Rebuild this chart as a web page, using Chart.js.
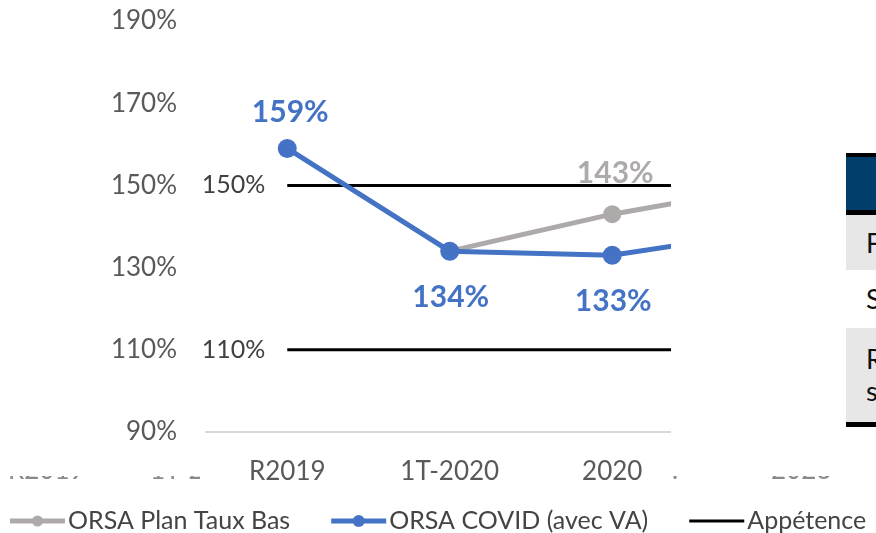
<!DOCTYPE html>
<html>
<head>
<meta charset="utf-8">
<script src="https://cdn.jsdelivr.net/npm/chart.js@4.4.1/dist/chart.umd.min.js"></script>
<style>
  html, body { margin: 0; padding: 0; background: #fff; overflow: hidden; }
  #wrap { position: relative; width: 876px; height: 533px; overflow: hidden; font-family: Lato, "Open Sans", sans-serif; }
  #chart { position: absolute; left: 0; top: 0; }
  #cover { position: absolute; left: 671px; top: 0; width: 205px; height: 490px; background: #fff; }
  .ghost { position: absolute; top: 476px; height: 5px; overflow: hidden; }
  .ghost span { position: absolute; left: 0; top: -22px; font-size: 26px; line-height: 31px; color: #8a8a8a; white-space: nowrap; }
  #table { position: absolute; left: 846px; top: 153px; width: 60px; font-size: 27px; color: #111; }
  #table .top { height: 4px; background: #000; }
  #table .head { height: 53px; background: #003E6C; }
  #table .sep { height: 5px; background: #000; }
  #table .row { padding-left: 20px; box-sizing: border-box; display: flex; flex-direction: column; justify-content: center; line-height: 32px; }
  #table .g { background: #E7E7E7; }
  #table .bot { height: 5px; background: #000; }
</style>
</head>
<body>
<div id="wrap">
  <canvas id="chart" width="876" height="533"></canvas>
  <div id="cover"></div>
  <div class="ghost" style="left:8px;width:80px;"><span>R2019</span></div>
  <div class="ghost" style="left:150px;width:50px;"><span>1T-2020</span></div>
  <div class="ghost" style="left:672px;width:6px;"><span>.</span></div>
  <div class="ghost" style="left:771px;width:62px;"><span>2023</span></div>
  <div id="table">
    <div class="top"></div>
    <div class="head"></div>
    <div class="sep"></div>
    <div class="row g" style="height:55px;">F</div>
    <div class="row" style="height:58px;">S</div>
    <div class="row g" style="height:94px;">R<br>s</div>
    <div class="bot"></div>
  </div>
</div>
<script>
// ---- data ----
const categories = ["R2019", "1T-2020", "2020", "2021"];
const planTauxBas = [null, 134, 143, 150];
const covidVA = [159, 134, 133, 139];
const appetenceHaute = [150, 150, 150, 150];
const appetenceBasse = [110, 110, 110, 110];
const yMin = 90, yMax = 190, yStep = 20;
const seriesNames = ["ORSA Plan Taux Bas", "ORSA COVID (avec VA)", "Appétence"];

const FONT = "Lato, 'Open Sans', sans-serif";
const GRAY = "#AEAAAA", BLUE = "#4472C4", BLACK = "#000000";

// data labels: placement per point (null = none)
const labelPlugin = {
  id: "pointLabels",
  afterDatasetsDraw(chart) {
    const ctx = chart.ctx;
    chart.data.datasets.forEach((ds, i) => {
      if (!ds.labelPos) return;
      const meta = chart.getDatasetMeta(i);
      meta.data.forEach((pt, j) => {
        const pos = ds.labelPos[j];
        const v = ds.data[j];
        if (!pos || v == null) return;
        ctx.save();
        ctx.font = (ds.labelBold ? "bold " : "") + ds.labelSize + "px " + FONT;
        ctx.fillStyle = ds.labelColor;
        ctx.textBaseline = "middle";
        const txt = v + "%";
        const off = ds.labelOffset || 36;
        if (pos === "above") { ctx.textAlign = "center"; ctx.fillText(txt, pt.x + 3, pt.y - off); }
        else if (pos === "below") { ctx.textAlign = "center"; ctx.fillText(txt, pt.x + 1, pt.y + 46); }
        else if (pos === "left") { ctx.textAlign = "right"; ctx.fillText(txt, pt.x - 22, pt.y); }
        ctx.restore();
      });
    });
  }
};

// legend with line + marker
const legendPlugin = {
  id: "lineLegend",
  afterDraw(chart) {
    const ctx = chart.ctx;
    let x = 10;
    const y = 521;
    ctx.save();
    ctx.font = "25px " + FONT;
    ctx.textBaseline = "middle";
    chart.data.datasets.forEach(ds => {
      if (ds.inLegend === false) return;
      ctx.strokeStyle = ds.borderColor;
      ctx.lineWidth = ds.legendLineWidth || ds.borderWidth;
      ctx.beginPath(); ctx.moveTo(x, y); ctx.lineTo(x + 55, y); ctx.stroke();
      if (ds.pointRadius > 0) {
        ctx.fillStyle = ds.pointBackgroundColor;
        ctx.beginPath(); ctx.arc(x + 27.5, y, ds.pointRadius - 1, 0, Math.PI * 2); ctx.fill();
      }
      ctx.fillStyle = "#444444";
      ctx.textAlign = "left";
      ctx.fillText(ds.label, x + 58, y);
      x += 58 + ctx.measureText(ds.label).width + 41;
    });
    ctx.restore();
  }
};

new Chart(document.getElementById("chart"), {
  type: "line",
  data: {
    labels: categories,
    datasets: [
      {
        label: seriesNames[0], data: planTauxBas, order: 1,
        borderColor: GRAY, backgroundColor: GRAY, pointBackgroundColor: GRAY, pointBorderColor: GRAY,
        borderWidth: 5, pointRadius: 6.5, pointHoverRadius: 6.5, tension: 0,
        labelPos: [null, null, "above", null], labelColor: GRAY, labelBold: true, labelSize: 30, labelOffset: 41
      },
      {
        label: seriesNames[1], data: covidVA, order: 0,
        borderColor: BLUE, backgroundColor: BLUE, pointBackgroundColor: BLUE, pointBorderColor: BLUE,
        borderWidth: 5, pointRadius: 7, pointHoverRadius: 7, tension: 0,
        labelPos: ["above", "below", "below", null], labelColor: BLUE, labelBold: true, labelSize: 30, labelOffset: 36
      },
      {
        label: seriesNames[2], data: appetenceHaute, order: 2,
        borderColor: BLACK, backgroundColor: BLACK, borderWidth: 3, pointRadius: 0, pointHoverRadius: 0,
        legendLineWidth: 3,
        labelPos: ["left", null, null, null], labelColor: "#404040", labelBold: false, labelSize: 25
      },
      {
        label: seriesNames[2], data: appetenceBasse, inLegend: false, order: 2,
        borderColor: BLACK, backgroundColor: BLACK, borderWidth: 3, pointRadius: 0, pointHoverRadius: 0,
        labelPos: ["left", null, null, null], labelColor: "#404040", labelBold: false, labelSize: 25
      }
    ]
  },
  options: {
    responsive: false,
    animation: false,
    events: [],
    layout: { padding: { left: 0, right: 20, top: 21, bottom: 31 } },
    plugins: { legend: { display: false }, tooltip: { enabled: false } },
    scales: {
      x: {
        offset: true,
        grid: { display: false, drawTicks: false },
        border: { display: true, color: "#D9D9D9", width: 2 },
        ticks: { color: "#595959", font: { family: FONT, size: 26 }, padding: 24, maxRotation: 0, autoSkip: false },
        afterFit(s) { s.height = 70; s.paddingLeft = 0; s.paddingRight = 0; }
      },
      y: {
        min: yMin, max: yMax,
        grid: { display: false, drawTicks: false },
        border: { display: false },
        ticks: { stepSize: yStep, color: "#595959", font: { family: FONT, size: 26 }, padding: 29,
                 callback: v => v + "%" },
        afterFit(s) { s.width = 206; s.paddingTop = 0; s.paddingBottom = 0; }
      }
    }
  },
  plugins: [labelPlugin, legendPlugin]
});
</script>
</body>
</html>
